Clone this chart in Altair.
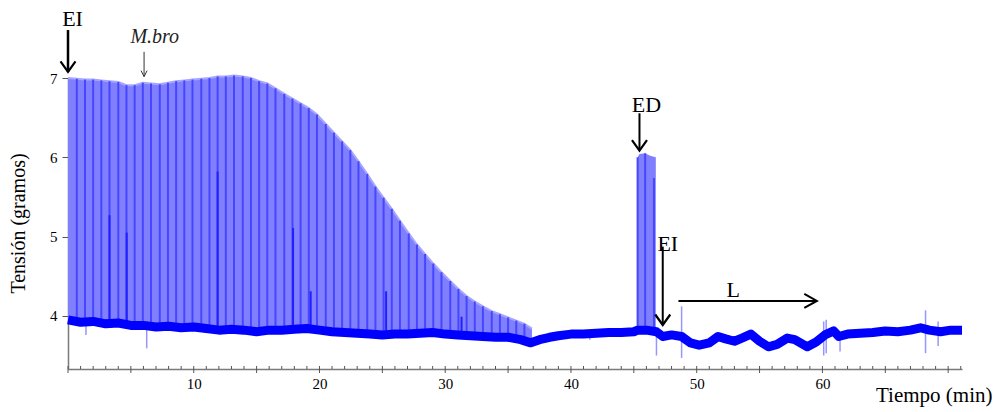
import altair as alt
import pandas as pd

SERIF = "Liberation Serif"

# ---- contraction train (EI) : time (min), peak tension, baseline under it (g)
contr_t = [0.0, 0.7, 1.35, 2.0, 2.65, 3.3, 4.0, 4.65, 5.3, 5.95, 6.6, 7.3, 7.95, 8.6, 9.25, 9.9,
           10.6, 11.25, 11.9, 12.55, 13.2, 13.9, 14.55, 15.2, 15.85, 16.5, 17.2, 17.85, 18.5,
           19.15, 19.8, 20.5, 21.15, 21.8, 22.45, 23.1, 23.8, 24.45, 25.1, 25.75, 26.4, 27.1,
           27.75, 28.4, 29.05, 29.7, 30.4, 31.05, 31.7, 32.35, 33.0, 33.7, 34.35, 35.0, 35.65,
           36.3, 36.9]
contr_peak = [7.0, 6.99, 6.98, 6.98, 6.97, 6.96, 6.95, 6.91, 6.91, 6.94, 6.93, 6.92, 6.94, 6.96,
              6.97, 6.98, 6.99, 7.0, 7.02, 7.02, 7.03, 7.02, 7.0, 6.96, 6.93, 6.87, 6.80, 6.74,
              6.68, 6.62, 6.54, 6.42, 6.31, 6.20, 6.09, 5.95, 5.79, 5.63, 5.49, 5.35, 5.20, 5.04,
              4.90, 4.78, 4.66, 4.55, 4.44, 4.34, 4.25, 4.18, 4.12, 4.06, 4.02, 3.98, 3.94, 3.90,
              3.84]
contr_base = [3.95, 3.93, 3.92, 3.93, 3.91, 3.90, 3.91, 3.89, 3.88, 3.88, 3.87, 3.86, 3.87, 3.86,
              3.85, 3.86, 3.85, 3.84, 3.82, 3.83, 3.83, 3.82, 3.81, 3.80, 3.82, 3.82, 3.82, 3.83,
              3.84, 3.84, 3.83, 3.81, 3.80, 3.79, 3.79, 3.78, 3.77, 3.77, 3.76, 3.77, 3.77, 3.77,
              3.78, 3.78, 3.79, 3.78, 3.77, 3.76, 3.75, 3.75, 3.74, 3.73, 3.73, 3.73, 3.72, 3.70,
              3.67]

# ---- ED block
ed_t = [45.3, 45.45, 45.9, 46.3, 46.75]
ed_peak = [6.0, 6.04, 6.05, 6.02, 6.0]
ed_base = [3.82, 3.82, 3.82, 3.81, 3.80]
ed_line_t = [45.3, 45.9, 46.6]
ed_line_peak = [6.0, 6.05, 5.74]
ed_line_base = [3.82, 3.82, 3.80]

# ---- isolated tall dark spikes
dark_t = [3.3, 4.67, 11.9, 17.9, 19.3, 25.3, 31.3]
dark_top = [5.27, 5.05, 5.82, 5.11, 4.31, 4.31, 3.99]
dark_base = [3.90, 3.89, 3.82, 3.83, 3.84, 3.76, 3.76]

# ---- light artefact spikes on the baseline
light_t = [1.43, 6.26, 41.5, 46.8, 48.8, 60.1, 60.3, 61.4, 68.2, 69.2]
light_lo = [3.76, 3.59, 3.70, 3.50, 3.47, 3.50, 3.53, 3.55, 3.53, 3.62]
light_hi = [3.92, 3.90, 3.80, 3.82, 4.12, 3.93, 3.95, 3.80, 4.07, 3.93]

# ---- baseline trace
base_t = [0, 1, 2, 3, 4, 5, 6, 7, 8, 9, 10, 11, 12, 13, 14, 15, 16, 17, 18, 19, 20, 21, 22, 23,
          24, 25, 26, 27, 28, 29, 30, 31, 32, 33, 34, 35, 36, 36.8, 37.5, 38.3, 39, 40, 41, 42,
          43, 44, 45, 45.3, 46, 46.8, 47.3, 48, 48.8, 49.5, 50.2, 51, 51.7, 52.3, 53, 53.6, 54.3,
          55, 55.7, 56.4, 57.2, 57.8, 58.8, 59.5, 60.2, 60.9, 61.3, 62, 63, 64, 65, 66, 67, 67.8,
          68.5, 69.4, 70.2, 71.1]
base_v = [3.95, 3.92, 3.93, 3.90, 3.91, 3.88, 3.88, 3.86, 3.87, 3.85, 3.86, 3.84, 3.82, 3.83,
          3.82, 3.80, 3.82, 3.82, 3.83, 3.84, 3.82, 3.80, 3.79, 3.78, 3.77, 3.76, 3.77, 3.77,
          3.78, 3.79, 3.77, 3.76, 3.75, 3.74, 3.73, 3.73, 3.70, 3.66, 3.70, 3.73, 3.75, 3.77,
          3.77, 3.78, 3.79, 3.79, 3.80, 3.82, 3.82, 3.80, 3.74, 3.76, 3.74, 3.66, 3.63, 3.66,
          3.74, 3.71, 3.68, 3.72, 3.77, 3.68, 3.61, 3.64, 3.72, 3.70, 3.61, 3.67, 3.76, 3.81,
          3.74, 3.77, 3.78, 3.79, 3.81, 3.80, 3.82, 3.85, 3.82, 3.80, 3.82, 3.82]

# ---- axis ticks / labels
x_labels = [10, 20, 30, 40, 50, 60]
y_labels = [4, 5, 6, 7]
minor_ticks = [m for m in range(1, 72) if m % 5 != 0]
major_ticks = [0, 5, 10, 15, 20, 25, 30, 35, 40, 45, 50, 55, 60, 65, 70]

# ---- annotations (data units)
ann_text = ["EI", "ED", "EI", "L"]
ann_text_t = [0.36, 46.0, 47.7, 52.9]
ann_text_v = [7.656, 6.575, 4.822, 4.243]

W, H = 894, 291
xscale = alt.Scale(domain=[0, 71.1], nice=False, zero=False)
yscale = alt.Scale(domain=[3.33, 7.0], nice=False, zero=False)
xaxis = alt.Axis(values=x_labels, ticks=False, grid=False, domainColor="#7a7a7a",
                 domainWidth=1.5, labelFont=SERIF, labelFontSize=15, labelColor="black",
                 labelPadding=7, format="d", title="Tiempo (min)", titleFont=SERIF,
                 titleFontSize=21, titleFontWeight="normal", titleColor="black",
                 titleX=924, titleY=32, titleAlign="right", titleBaseline="alphabetic")
yaxis = alt.Axis(values=y_labels, grid=False, tickSize=6, tickColor="#555555",
                 domainColor="#7a7a7a", domainWidth=1.5, labelFont=SERIF, labelFontSize=15,
                 labelColor="black", labelPadding=5, format="d", title="Tensión (gramos)",
                 titleFont=SERIF, titleFontSize=20, titleFontWeight="normal",
                 titleColor="black", titleAngle=270, titleX=-50, titleY=145,
                 titleAlign="center", titleBaseline="middle")


def X(f):
    return alt.X(f, type="quantitative", scale=xscale, axis=xaxis)


def Y(f):
    return alt.Y(f, type="quantitative", scale=yscale, axis=yaxis)


contr = pd.DataFrame({"t": contr_t, "v": contr_peak, "b": contr_base})
ed = pd.DataFrame({"t": ed_t, "v": ed_peak, "b": ed_base})
lines = pd.DataFrame({"t": contr_t[1:-1] + ed_line_t,
                      "v": contr_peak[1:-1] + ed_line_peak,
                      "b": contr_base[1:-1] + ed_line_base})
dark = pd.DataFrame({"t": dark_t, "v": dark_top, "b": dark_base})
light = pd.DataFrame({"t": light_t, "v": light_hi, "b": light_lo})
base = pd.DataFrame({"t": base_t, "v": base_v})

area1 = alt.Chart(contr).mark_area(color="#8080ff", opacity=1).encode(
    x=X("t"), y=Y("v"), y2="b")
area1_edge = alt.Chart(contr).mark_line(color="#a6a6ff", strokeWidth=2).encode(
    x=X("t"), y=Y("v"))
area2 = alt.Chart(ed).mark_area(color="#8080ff", opacity=1).encode(
    x=X("t"), y=Y("v"), y2="b")
reg_lines = alt.Chart(lines).mark_rule(color="#4646ff", strokeWidth=2).encode(
    x=X("t"), y=Y("v"), y2="b")
dark_lines = alt.Chart(dark).mark_rule(color="#2020ff", strokeWidth=2).encode(
    x=X("t"), y=Y("v"), y2="b")
light_lines = alt.Chart(light).mark_rule(color="#9696ff", strokeWidth=1.5).encode(
    x=X("t"), y=Y("v"), y2="b")
base_line = alt.Chart(base).mark_line(color="#0000ff", strokeWidth=9, strokeJoin="round").encode(
    x=X("t"), y=Y("v"))

minor = alt.Chart(pd.DataFrame({"t": minor_ticks})).mark_rule(
    color="#555555", strokeWidth=1).encode(x=X("t"), y=alt.value(H - 3), y2=alt.value(H))
major = alt.Chart(pd.DataFrame({"t": major_ticks})).mark_rule(
    color="#555555", strokeWidth=1).encode(x=X("t"), y=alt.value(H - 3), y2=alt.value(H + 4))

# arrows
arrows = pd.DataFrame({
    "t": [0.0, 6.05, 45.45, 47.3, 48.55],
    "t2": [0.0, 6.05, 45.45, 47.3, 59.5],
    "v": [7.605, 7.33, 6.555, 4.873, 4.188],
    "v2": [7.08, 7.02, 6.09, 3.89, 4.188],
    "w": [2.5, 1.0, 2.0, 2.0, 2.0],
    "c": ["black", "#333333", "black", "black", "black"],
})
arrow_shafts = alt.Chart(arrows).mark_rule().encode(
    x=X("t"), x2="t2", y=Y("v"), y2="v2",
    strokeWidth=alt.StrokeWidth("w:Q", scale=None, legend=None),
    color=alt.Color("c:N", scale=None, legend=None))

down_heads = pd.DataFrame({"t": [0.0, 45.45, 47.3], "v": [7.076, 6.083, 3.885]})
head_down = alt.Chart(down_heads).mark_point(
    shape="M-1,-1.4L0,0L1,-1.4", size=225, filled=False, color="black",
    strokeWidth=2.2, opacity=1).encode(x=X("t"), y=Y("v"))
mbro_head = alt.Chart(pd.DataFrame({"t": [6.05], "v": [7.017]})).mark_point(
    shape="M-1,-2L0,0L1,-2", size=36, filled=False, color="#333333",
    strokeWidth=1, opacity=1).encode(x=X("t"), y=Y("v"))
right_head = alt.Chart(pd.DataFrame({"t": [59.56], "v": [4.188]})).mark_point(
    shape="M-1.8,-1L0,0L-1.8,1", size=196, filled=False, color="black",
    strokeWidth=2, opacity=1).encode(x=X("t"), y=Y("v"))

texts = alt.Chart(pd.DataFrame({"t": ann_text_t, "v": ann_text_v, "s": ann_text})).mark_text(
    font=SERIF, fontSize=22, color="black", align="center", baseline="alphabetic").encode(
    x=X("t"), y=Y("v"), text="s:N")
mbro = alt.Chart(pd.DataFrame({"t": [6.9], "v": [7.441], "s": ["M.bro"]})).mark_text(
    font=SERIF, fontSize=20, fontStyle="italic", color="#222222", align="center",
    baseline="alphabetic").encode(x=X("t"), y=Y("v"), text="s:N")

chart = alt.layer(
    area1, area1_edge, area2, reg_lines, dark_lines, light_lines, base_line, minor, major,
    arrow_shafts, head_down, mbro_head, right_head, texts, mbro
).properties(
    width=W, height=H,
    autosize=alt.AutoSizeParams(type="none"),
    padding={"left": 68, "top": 78, "right": 34, "bottom": 43},
    background="white",
).configure_view(stroke=None)

chart.save("out.html", embed_options={"renderer": "svg", "actions": False})
